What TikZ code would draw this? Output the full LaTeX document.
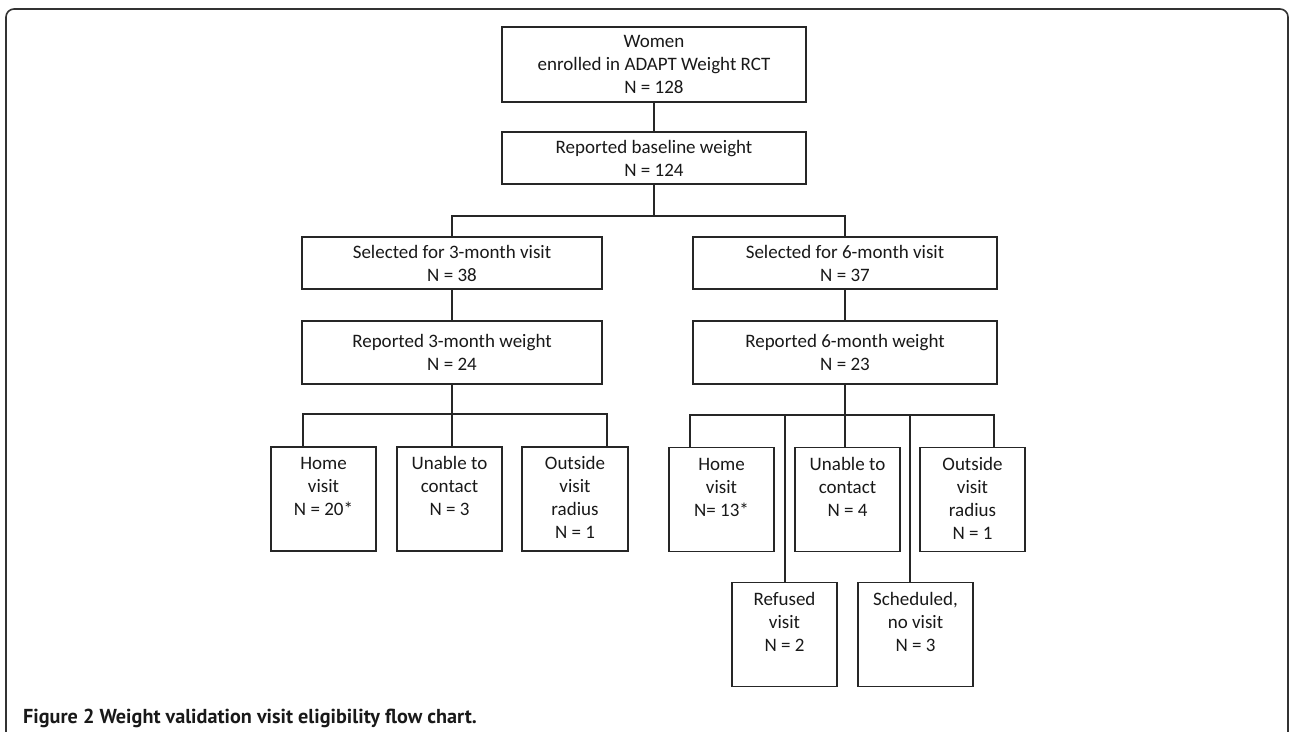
\documentclass[tikz,border=0pt]{standalone}
\usepackage{fontspec}
\setmainfont{Carlito}
\newfontfamily\capfont{PT Sans}
\begin{document}
\begin{tikzpicture}[x=1pt,y=-1pt,
  every node/.style={font=\fontsize{19}{23}\selectfont, text=black!90},
  bigbox/.style={draw=black!85, line width=1.4pt, align=center, inner sep=0pt},
  smallbox/.style={draw=black!85, line width=1.4pt, minimum width=105pt, minimum height=104pt, inner sep=0pt},
  lbl/.style={anchor=north, align=center, inner sep=0pt, yshift=-7pt},
  conn/.style={draw=black!85, line width=1.4pt},
  frame/.style={draw=black!80, line width=1.6pt, rounded corners=8pt}]
\useasboundingbox (0,0) rectangle (1289,731);
\fill[white] (0,0) rectangle (1289,731);
\clip (0,0) rectangle (1289,731);
\draw[frame] (6,760) -- (6,9) -- (1288,9) -- (1288,760);

% main column
\node[bigbox, minimum width=304pt, minimum height=75pt] (top) at (654,64.5) {Women\\enrolled in ADAPT Weight RCT\\N = 128};
\node[bigbox, minimum width=304pt, minimum height=52pt] (base) at (654,158) {Reported baseline weight\\N = 124};
\node[bigbox, minimum width=300pt, minimum height=52pt] (sel3) at (452,263) {Selected for 3-month visit\\N = 38};
\node[bigbox, minimum width=304pt, minimum height=52pt] (sel6) at (845,263) {Selected for 6-month visit\\N = 37};
\node[bigbox, minimum width=300pt, minimum height=63pt] (rep3) at (452,352.5) {Reported 3-month weight\\N = 24};
\node[bigbox, minimum width=304pt, minimum height=63pt] (rep6) at (845,352.5) {Reported 6-month weight\\N = 23};

% left bottom boxes
\node[smallbox] (h3) at (323.5,499) {};
\node[smallbox] (u3) at (449.5,499) {};
\node[smallbox, minimum width=106pt] (o3) at (575,499) {};
\node[lbl] (h3t) at (h3.north) {\strut Home\\visit\\N = 20*};
\node[lbl] (u3t) at (u3.north) {\strut Unable to\\contact\\N = 3};
\node[lbl] (o3t) at (o3.north) {\strut Outside\\visit\\radius\\N = 1};

% right bottom boxes
\node[smallbox] (h6) at (721.5,499.5) {};
\node[smallbox] (u6) at (847.5,499.5) {};
\node[smallbox] (o6) at (972.5,499.5) {};
\node[smallbox] (r6) at (784.5,634.5) {};
\node[smallbox, minimum width=115pt] (s6) at (915.5,634.5) {};
\node[lbl] (h6t) at (h6.north) {\strut Home\\visit\\N= 13*};
\node[lbl] (u6t) at (u6.north) {\strut Unable to\\contact\\N = 4};
\node[lbl] (o6t) at (o6.north) {\strut Outside\\visit\\radius\\N = 1};
\node[lbl] (r6t) at (r6.north) {\strut Refused\\visit\\N = 2};
\node[lbl] (s6t) at (s6.north) {\strut Scheduled,\\no visit\\N = 3};

% connectors
\draw[conn] (top.south) -- (base.north);
\coordinate (bl) at (452,216);
\coordinate (br) at (845,216);
\draw[conn] (base.south) -- (base.south |- bl);
\draw[conn] (sel3.north) -- (bl) -- (br) -- (sel6.north);
\draw[conn] (sel3.south) -- (rep3.north);
\draw[conn] (sel6.south) -- (rep6.north);

\coordinate (l3) at (303,414);
\coordinate (r3) at (607,414);
\draw[conn] (rep3.south) -- (rep3.south |- u3.north);
\draw[conn] (l3 |- h3.north) -- (l3) -- (r3) -- (r3 |- o3.north);

\coordinate (l6) at (690,415);
\coordinate (r6c) at (994,415);
\coordinate (a6) at (785,415);
\coordinate (b6) at (910,415);
\draw[conn] (rep6.south) -- (rep6.south |- u6.north);
\draw[conn] (l6 |- h6.north) -- (l6) -- (r6c) -- (r6c |- o6.north);
\draw[conn] (a6) -- (a6 |- r6.north);
\draw[conn] (b6) -- (b6 |- s6.north);

% caption
\node[anchor=base west, inner sep=0pt, font=\capfont\bfseries\fontsize{20.2}{24}\selectfont] (cap) at (23,723) {Figure 2 Weight validation visit eligibility flow chart.};
\end{tikzpicture}
\end{document}
